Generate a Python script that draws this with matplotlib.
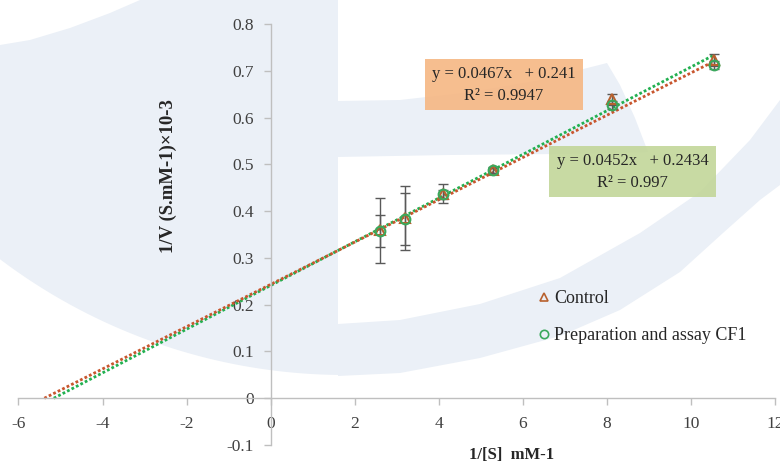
import matplotlib
matplotlib.use('Agg')
import matplotlib.pyplot as plt
from matplotlib.patches import Rectangle, Polygon
from matplotlib.lines import Line2D
from matplotlib.ticker import FuncFormatter
import numpy as np

plt.rcParams['font.family'] = ['Liberation Serif', 'DejaVu Serif']
plt.rcParams['axes.unicode_minus'] = False

# ---- data ----
inv_s = [2.60, 3.20, 4.11, 5.28, 8.13, 10.55]
control = [0.359, 0.385, 0.437, 0.488, 0.639, 0.723]
control_err = [0.070, 0.068, 0.020, 0.006, 0.012, 0.012]
cf1 = [0.358, 0.383, 0.436, 0.487, 0.627, 0.712]
cf1_err = [0.034, 0.055, 0.010, 0.005, 0.008, 0.008]
series_names = ['Control', 'Preparation and assay CF1']
trend_brown = (0.0452, 0.2434)   # slope, intercept
trend_green = (0.0467, 0.241)
eq_orange = 'y = 0.0467x   + 0.241\nR² = 0.9947'
eq_green = 'y = 0.0452x   + 0.2434\nR² = 0.997'
x_ticks = [-6, -4, -2, 0, 2, 4, 6, 8, 10, 12]
y_ticks = [-0.1, 0, 0.1, 0.2, 0.3, 0.4, 0.5, 0.6, 0.7, 0.8]
x_label = '1/[S]  mM-1'
y_label = '1/V (S.mM-1)×10-3'

BROWN = '#b8612e'
BROWN_LINE = '#c8562e'
GREEN = '#3aa85c'
GREEN_LINE = '#22b050'
WM = '#ebf0f7'
W, H = 780, 466

fig = plt.figure(figsize=(W / 100, H / 100), dpi=100)

# ---- background watermark (pixel coordinates) ----
bg = fig.add_axes([0, 0, 1, 1], zorder=0)
bg.set_xlim(0, W)
bg.set_ylim(H, 0)
bg.axis('off')
cx, cy, R = 345, -197, 572
xs_arc = np.linspace(338, 0, 40)
arc = [(x, cy + np.sqrt(R ** 2 - (x - cx) ** 2)) for x in xs_arc]
left_poly = [(140, 0), (338, 0), (338, 330)] + arc + [(0, 45), (30, 40), (70, 28), (110, 13)]
bg.add_patch(Polygon(left_poly, closed=True, fc=WM, ec='none'))
inner_edge = [(338, 324), (400, 320), (480, 304), (560, 278), (640, 233),
              (700, 192), (750, 140), (780, 100)]
outer_edge = [(780, 185), (760, 200), (723, 233), (680, 272), (620, 310),
              (560, 336), (480, 358), (400, 373), (338, 376)]
bg.add_patch(Polygon(inner_edge + outer_edge, closed=True, fc=WM, ec='none'))
bg.add_patch(Polygon([(337, 101), (400, 100), (470, 92), (540, 80), (607, 63),
                      (620, 85), (635, 118), (648, 152), (560, 154), (450, 155),
                      (337, 157)], closed=True, fc=WM, ec='none'))

# equation boxes
bg.add_patch(Rectangle((425, 59), 158, 51, fc='#f6b783', ec='none', alpha=0.9))
bg.text(504, 85, eq_orange, ha='center', va='center', fontsize=12,
        linespacing=1.5, color='#262626')
bg.add_patch(Rectangle((549, 146), 167, 51, fc='#c2d699', ec='none', alpha=0.9))
bg.text(632.5, 172, eq_green, ha='center', va='center', fontsize=12,
        linespacing=1.5, color='#262626')

# ---- main axes ----
ax = fig.add_axes([18.5 / W, 21 / H, (775 - 18.5) / W, (445 - 24) / H], zorder=1)
ax.set_facecolor('none')
ax.set_xlim(-6, 12)
ax.set_ylim(-0.1, 0.8)
for s in ['top', 'right']:
    ax.spines[s].set_visible(False)
ax.spines['left'].set_position(('data', 0))
ax.spines['bottom'].set_position(('data', 0))
for s in ['left', 'bottom']:
    ax.spines[s].set_color('#bfbfbf')
    ax.spines[s].set_linewidth(1)
ax.set_xticks(x_ticks)
ax.set_yticks(y_ticks)
ax.xaxis.set_major_formatter(FuncFormatter(lambda v, p: '%d' % v))
ax.yaxis.set_major_formatter(FuncFormatter(lambda v, p: '0' if abs(v) < 1e-9 else '%.1f' % v))
ax.tick_params(axis='x', direction='out', length=5, width=1, color='#bfbfbf',
               pad=8, labelsize=12.5, labelcolor='#404040')
ax.tick_params(axis='y', direction='out', length=5, width=1, color='#bfbfbf',
               pad=7, labelsize=12.5, labelcolor='#404040')

# trendlines
for (m, b), col in [(trend_green, GREEN_LINE), (trend_brown, BROWN_LINE)]:
    xs = np.array([-b / m, inv_s[-1]])
    ax.plot(xs, m * xs + b, color=col, lw=2, ls=(0, (1, 0.8)), zorder=2)

# error bars
ax.errorbar(inv_s, control, yerr=control_err, fmt='none', ecolor='#595959',
            elinewidth=1, capsize=3.5, capthick=1, zorder=3)
ax.errorbar(inv_s, cf1, yerr=cf1_err, fmt='none', ecolor='#595959',
            elinewidth=1, capsize=3.5, capthick=1, zorder=3)

# markers
ax.plot(inv_s, control, ls='none', marker='^', ms=7, mfc='none', mec=BROWN,
        mew=1.5, zorder=4)
ax.plot(inv_s, cf1, ls='none', marker='o', ms=7, mfc='none', mec=GREEN,
        mew=1.5, zorder=4)

# legend
handles = [Line2D([], [], ls='none', marker='^', ms=6, mfc='none', mec=BROWN, mew=1.2),
           Line2D([], [], ls='none', marker='o', ms=6, mfc='none', mec=GREEN, mew=1.2)]
ax.legend(handles, series_names, loc='upper left',
          bbox_to_anchor=(537 / W, 1 - 290 / H), bbox_transform=fig.transFigure,
          frameon=False, handlelength=0.8, handletextpad=0.15, labelspacing=1.1,
          fontsize=13, borderpad=0, borderaxespad=0, labelcolor='#262626')

# axis titles
fig.text(168 / W, 1 - 176 / H, y_label, rotation=90, ha='center', va='center',
         fontsize=13.5, fontweight='bold', color='#262626')
fig.text(512 / W, 1 - 455 / H, x_label, ha='center', va='center',
         fontsize=12, fontweight='bold', color='#262626')

fig.savefig('out.png', dpi=100)
